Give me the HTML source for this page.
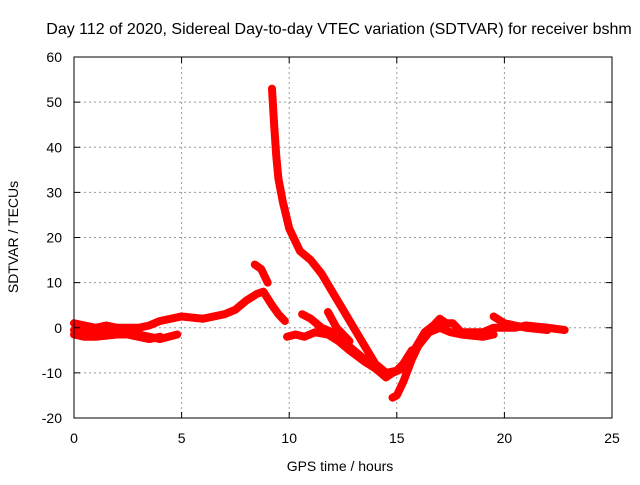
<!DOCTYPE html>
<html><head><meta charset="utf-8"><style>
body{margin:0;background:#fff}
svg text{font-family:"Liberation Sans",sans-serif;font-size:14px;fill:#000}
</style></head><body>
<svg id="c" width="640" height="480">
<rect width="640" height="480" fill="#fff"/>
<text x="339" y="34" text-anchor="middle" style="font-size:16px">Day 112 of 2020, Sidereal Day-to-day VTEC variation (SDTVAR) for receiver bshm</text>
<g id="grid"></g>
<g id="series"></g>
<rect x="74" y="57" width="538" height="361" fill="none" stroke="#000" stroke-width="1"/>
<g id="axes"></g>
<text x="340" y="471" text-anchor="middle">GPS time / hours</text>
<text transform="translate(18,237) rotate(-90)" text-anchor="middle">SDTVAR / TECUs</text>
</svg>
<script>
const xTicks=[0,5,10,15,20,25];
const yTicks=[-20,-10,0,10,20,30,40,50,60];
const s1x=[0,0.5,1,1.5,2,3,3.5,4,5,6,7,7.5,8,8.5,8.8,9.2,9.5,9.8];
const s1y=[1,0.5,0,0.5,0,0,0.5,1.5,2.5,2,3,4,6,7.5,8,5,3,1.5];
const s2x=[0,0.5,1,2,3,3.5,4,4.8];
const s2y=[-1.5,-2,-2,-1.5,-1.5,-2,-2.5,-1.5];
const s3x=[0,1,2,3,3.5,4];
const s3y=[-0.5,-1,-1,-2,-2.5,-2];
const s4x=[8.4,8.7,9.0];
const s4y=[14,13,10];
const s5x=[9.2,9.3,9.4,9.5,9.7,10,10.5,11,11.5,12,12.5,13,13.5,14,14.5,15,15.3,15.7];
const s5y=[53,45,38,33,28,22,17,15,12,8,4,0,-4,-8,-10,-9.5,-8,-5];
const s6x=[9.9,10.3,10.7,11.2,11.8,12.3,12.8,13.5,14,14.5,14.8,15.3,15.8,16.3,16.7,17,17.3,17.6,18,18.5,19,19.5,20,20.5,21,22,22.8];
const s6y=[-2,-1.5,-2,-1,-1.5,-3,-5,-7.5,-9,-11,-10,-9,-5,-1,0.5,2,1,1,-1,-1,-1,0,0,0,0.5,0,-0.5];
const s7x=[10.6,11,11.5,12,12.5,13,13.5];
const s7y=[3,2,0,-1,-3,-5,-7];
const s8x=[14.8,15,15.3,15.7,16,16.5,17,17.5,18,19,19.5];
const s8y=[-15.5,-15,-12,-7,-4,-1,0,-1,-1.5,-2,-1.5];
const s9x=[19.5,20,20.5,21,22];
const s9y=[2.5,1,0.5,0,-0.5];
const s10x=[11.8,12.2,12.8];
const s10y=[3.5,0,-3];
const X=v=>74+v*538/25, Y=v=>418-(v+20)*361/80;
const NS="http://www.w3.org/2000/svg";
const grid=document.getElementById('grid'),axes=document.getElementById('axes'),ser=document.getElementById('series');
function mk(t,a,p){const e=document.createElementNS(NS,t);for(const k in a)e.setAttribute(k,a[k]);p.appendChild(e);return e;}
xTicks.forEach(t=>{
 if(t>0&&t<25){const g=mk('line',{x1:X(t),x2:X(t),y1:57,y2:418,stroke:'#999','stroke-dasharray':'2,3'},grid);
 
 }
 mk('line',{x1:X(t),x2:X(t),y1:418,y2:412,stroke:'#000'},axes);
 mk('line',{x1:X(t),x2:X(t),y1:57,y2:63,stroke:'#000'},axes);
 const l=mk('text',{x:X(t),y:443,'text-anchor':'middle'},axes);l.textContent=t;
 
 
});
yTicks.forEach(t=>{
 if(t>-20&&t<60){const g=mk('line',{x1:74,x2:612,y1:Y(t),y2:Y(t),stroke:'#999','stroke-dasharray':'2,3'},grid);
 
 }
 mk('line',{x1:74,x2:80,y1:Y(t),y2:Y(t),stroke:'#000'},axes);
 mk('line',{x1:612,x2:606,y1:Y(t),y2:Y(t),stroke:'#000'},axes);
 const l=mk('text',{x:62,y:Y(t)+5,'text-anchor':'end'},axes);l.textContent=t;
 
 
});
const all=[[s1x,s1y],[s2x,s2y],[s3x,s3y],[s4x,s4y],[s5x,s5y],[s6x,s6y],[s7x,s7y],[s8x,s8y],[s9x,s9y],[s10x,s10y]];
all.forEach(([xs,ys],i)=>{
 const pts=xs.map((x,j)=>X(x)+','+Y(ys[j])).join(' ');
 const p=mk('polyline',{points:pts,fill:'none',stroke:'#f00','stroke-width':8,'stroke-linejoin':'round','stroke-linecap':'round'},ser);
 
 
});
</script>
</body></html>
